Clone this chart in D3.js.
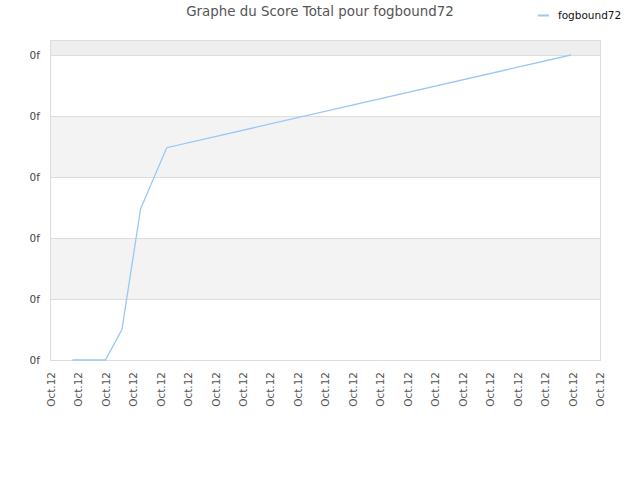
<!DOCTYPE html>
<html>
<head>
<meta charset="utf-8">
<script src="https://cdn.jsdelivr.net/npm/d3@7/dist/d3.min.js"></script>
<style>
body { margin: 0; background: #fff; }
svg { display: block; }
</style>
</head>
<body>
<svg id="chart" width="640" height="480"></svg>
<script>
// ---- data ----
const chartTitle = "Graphe du Score Total pour fogbound72";
const seriesName = "fogbound72";
const xTickLabels = ["Oct.12","Oct.12","Oct.12","Oct.12","Oct.12","Oct.12","Oct.12","Oct.12","Oct.12","Oct.12","Oct.12","Oct.12","Oct.12","Oct.12","Oct.12","Oct.12","Oct.12","Oct.12","Oct.12","Oct.12","Oct.12"];
const yTickValues = [0, 1, 2, 3, 4, 5];
const yTickLabels = ["0f", "0f", "0f", "0f", "0f", "0f"];
const pointTimes = [0.8, 2.0, 2.6, 3.28, 4.23, 18.94];
const pointScores = [0, 0, 0.5, 2.48, 3.48, 5];

(function () {
// ---- layout ----
const svg = d3.select("#chart");
const pLeft = 50, pRight = 600, pTop = 40, pBottom = 360;

const x = d3.scaleLinear().domain([0, xTickLabels.length - 1]).range([pLeft + 0.5, pRight]);
const y = d3.scaleLinear().domain([0, 5]).range([pBottom, 55]);
const yTopVal = y.invert(pTop);

// bands
const bandEdges = [0, 1, 2, 3, 4, 5, yTopVal];
for (let i = 0; i < bandEdges.length - 1; i++) {
  let fill = null;
  if (i === 5) fill = "#eeeeee";
  else if (i % 2 === 1) fill = "#f3f3f3";
  if (fill) {
    svg.append("rect")
      .attr("x", pLeft).attr("width", pRight - pLeft)
      .attr("y", y(bandEdges[i + 1])).attr("height", y(bandEdges[i]) - y(bandEdges[i + 1]))
      .attr("fill", fill);
  }
}

// grid lines
svg.append("g").selectAll("line").data(yTickValues).join("line")
  .attr("x1", pLeft).attr("x2", pRight)
  .attr("y1", d => Math.round(y(d)) + 0.5).attr("y2", d => Math.round(y(d)) + 0.5)
  .attr("stroke", "#dddddd").attr("stroke-width", 1);

// border
svg.append("rect")
  .attr("x", pLeft + 0.5).attr("y", pTop + 0.5)
  .attr("width", pRight - pLeft).attr("height", pBottom - pTop)
  .attr("fill", "none").attr("stroke", "#dddddd");

// y axis labels
const yAxis = d3.axisLeft(y).tickValues(yTickValues)
  .tickFormat((d, i) => yTickLabels[i]).tickSize(0).tickPadding(10);
const gy = svg.append("g").attr("transform", `translate(${pLeft},0.5)`).call(yAxis);
gy.select(".domain").remove();
gy.selectAll("text").attr("fill", "#444").style("font-family", "DejaVu Sans").style("font-size", "10.5px");

// x axis labels
const xAxis = d3.axisBottom(x).tickValues(d3.range(xTickLabels.length))
  .tickFormat((d, i) => xTickLabels[i]).tickSize(0);
const gx = svg.append("g").attr("transform", `translate(0,${pBottom})`).call(xAxis);
gx.select(".domain").remove();
gx.selectAll("text")
  .attr("transform", "rotate(-90)")
  .attr("x", -12).attr("y", 0).attr("dy", "0.35em")
  .attr("text-anchor", "end")
  .attr("fill", "#555").style("font-family", "DejaVu Sans").style("font-size", "10.5px");

// line
const data = pointTimes.map((t, i) => ({ t, v: pointScores[i] }));
const line = d3.line().x(d => x(d.t)).y(d => y(d.v));
svg.append("path").datum(data)
  .attr("d", line)
  .attr("fill", "none").attr("stroke", "#99c8f5").attr("stroke-width", 1.3);

// title
svg.append("text").attr("x", 320).attr("y", 16).attr("text-anchor", "middle")
  .attr("fill", "#555").style("font-family", "DejaVu Sans").style("font-size", "13.4px")
  .text(chartTitle);

// legend
svg.append("line").attr("x1", 538).attr("x2", 549).attr("y1", 15.5).attr("y2", 15.5)
  .attr("stroke", "#99c8f5").attr("stroke-width", 2);
svg.append("text").attr("x", 558).attr("y", 16).attr("dy", "0.32em")
  .attr("fill", "#111").style("font-family", "DejaVu Sans").style("font-size", "10.5px")
  .text(seriesName);
})();
</script>
</body>
</html>
